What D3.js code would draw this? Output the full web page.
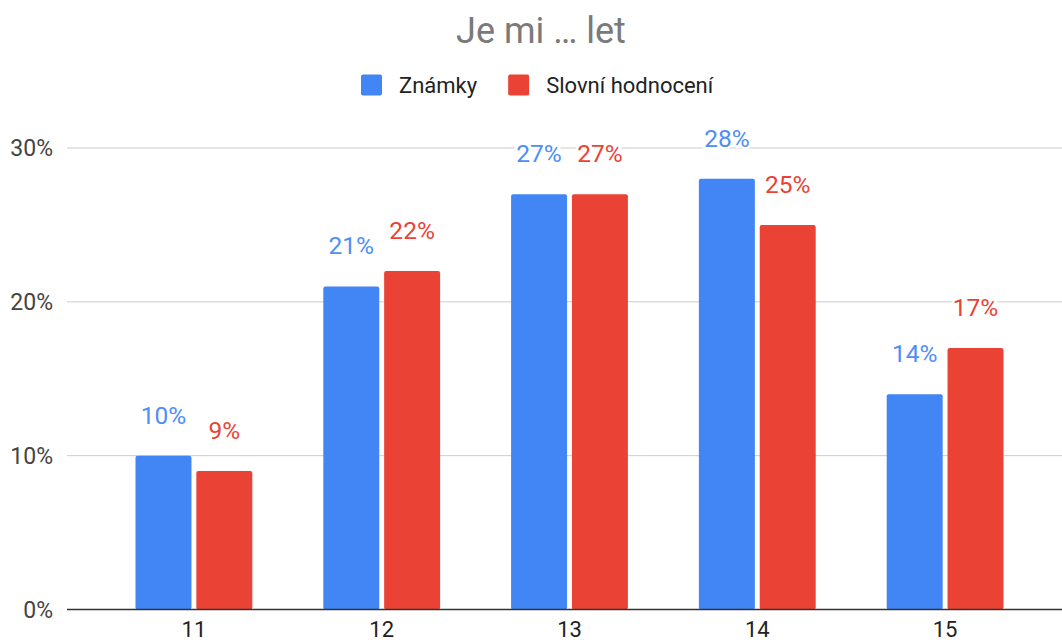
<!DOCTYPE html>
<html>
<head>
<meta charset="utf-8">
<script src="https://cdn.jsdelivr.net/npm/d3@7"></script>
<style>
  body { margin: 0; background: #fff; }
  text { font-family: Roboto, "Noto Sans", sans-serif; }
</style>
</head>
<body>
<div id="chart"></div>
<script>
const W = 1062, H = 642;

// data
const categories = ["11", "12", "13", "14", "15"];
const seriesNames = ["Známky", "Slovní hodnocení"];
const znamky = [10, 21, 27, 28, 14];
const slovni = [9, 22, 27, 25, 17];
const yTicks = [0, 10, 20, 30];
const colors = ["#4285f4", "#ea4335"];
const labelColors = ["#4f8ef5", "#ea4335"];

const rows = categories.map((c, i) => ({ cat: c, values: [znamky[i], slovni[i]] }));

const svg = d3.select("#chart").append("svg")
  .attr("width", W)
  .attr("height", H);

// scales
const x0 = d3.scaleBand()
  .domain(categories)
  .range([100, 1039])
  .paddingInner(0.378)
  .paddingOuter(0.189);
const x1 = d3.scaleBand()
  .domain(seriesNames)
  .range([0, x0.bandwidth()])
  .paddingInner(0.08);
const y = d3.scaleLinear().domain([0, 30]).range([609.5, 148]);

// title
svg.append("text")
  .attr("x", 541)
  .attr("y", 43)
  .attr("text-anchor", "middle")
  .attr("font-size", "36px")
  .attr("fill", "#7a7a7a")
  .text("Je mi … let");

// legend
const legend = svg.append("g").attr("transform", "translate(361,0)");
let lx = 0;
seriesNames.forEach((name, i) => {
  const item = legend.append("g").attr("transform", `translate(${lx},0)`);
  item.append("rect")
    .attr("x", 0).attr("y", 74.5)
    .attr("width", 21).attr("height", 21)
    .attr("rx", 2)
    .attr("fill", colors[i]);
  const t = item.append("text")
    .attr("x", 38).attr("y", 93)
    .attr("font-size", "22px")
    .attr("fill", "#222")
    .text(name);
  lx += 38 + t.node().getComputedTextLength() + 31;
});

// gridlines + y labels
svg.append("g").selectAll("line")
  .data(yTicks.filter(d => d > 0))
  .join("line")
  .attr("x1", 67).attr("x2", W)
  .attr("y1", d => y(d)).attr("y2", d => y(d))
  .attr("stroke", "#cccccc")
  .attr("stroke-width", 1);

svg.append("g").selectAll("text")
  .data(yTicks)
  .join("text")
  .attr("x", 53)
  .attr("y", d => y(d))
  .attr("dy", "0.36em")
  .attr("text-anchor", "end")
  .attr("font-size", "23px")
  .attr("fill", "#444")
  .text(d => d + "%");

// bars
const groups = svg.append("g").selectAll("g")
  .data(rows)
  .join("g")
  .attr("transform", d => `translate(${x0(d.cat)},0)`);

groups.selectAll("rect")
  .data(d => d.values.map((v, i) => ({ name: seriesNames[i], v, i })))
  .join("rect")
  .attr("x", d => x1(d.name))
  .attr("y", d => y(d.v))
  .attr("width", x1.bandwidth())
  .attr("height", d => y(0) - y(d.v))
  .attr("rx", 2)
  .attr("fill", d => colors[d.i]);

// data labels with white halo
groups.selectAll("text")
  .data(d => d.values.map((v, i) => ({ name: seriesNames[i], v, i })))
  .join("text")
  .attr("x", d => x1(d.name) + x1.bandwidth() / 2)
  .attr("y", d => y(d.v) - 32)
  .attr("text-anchor", "middle")
  .attr("font-size", "24.5px")
  .attr("fill", d => labelColors[d.i])
  .attr("stroke", "#fff")
  .attr("stroke-width", 5)
  .attr("paint-order", "stroke")
  .text(d => d.v + "%");

// baseline
svg.append("line")
  .attr("x1", 67).attr("x2", W)
  .attr("y1", y(0)).attr("y2", y(0))
  .attr("stroke", "#333")
  .attr("stroke-width", 1.5);

// x labels
svg.append("g").selectAll("text")
  .data(categories)
  .join("text")
  .attr("x", d => x0(d) + x0.bandwidth() / 2)
  .attr("y", 637)
  .attr("text-anchor", "middle")
  .attr("font-size", "22px")
  .attr("fill", "#222")
  .text(d => d);
</script>
</body>
</html>
